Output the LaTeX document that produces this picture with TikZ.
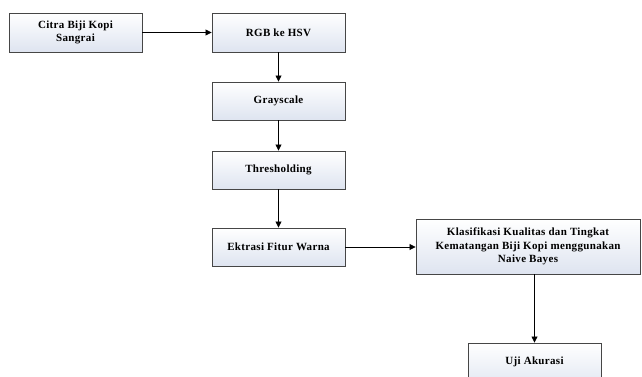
\documentclass[tikz,border=0pt]{standalone}
\usepackage{fontspec}
\setmainfont{Liberation Serif}[LetterSpace=3]
\usetikzlibrary{arrows.meta,calc}
\definecolor{boxend}{RGB}{222,228,240}
\definecolor{edge}{RGB}{70,70,70}
\tikzset{
  procbox/.style={draw=edge, line width=0.9pt, left color=white, right color=boxend, shading angle=0,
    minimum width=133pt, inner sep=2pt, align=center, font=\fontsize{11}{13.5}\selectfont\bfseries},
  flow/.style={draw=black, line width=0.8pt, -{Triangle[length=6pt,width=6pt]}}
}
\begin{document}
\begin{tikzpicture}[x=1pt,y=1pt]
\useasboundingbox (0,0) rectangle (642,-377);
\begin{scope}
\clip (0,0) rectangle (642,-377);
\node[procbox, minimum height=39pt] (c1) at (75.5,-32.5) {Citra Biji Kopi\\Sangrai};
\node[procbox, minimum height=39pt] (c2) at (278.5,-32.5) {RGB ke HSV};
\node[procbox, minimum height=38pt] (c3) at (278.5,-101) {Grayscale};
\node[procbox, minimum height=38pt] (c4) at (278.5,-170) {Thresholding};
\node[procbox, minimum height=38pt] (c5) at (278.5,-247) {Ektrasi Fitur Warna};
\node[procbox, minimum width=224pt, minimum height=55pt] (c6) at (528,-246.5) {Klasifikasi Kualitas dan Tingkat\\Kematangan Biji Kopi menggunakan\\Naive Bayes};
\node[procbox, minimum height=48pt, text depth=13pt] (c7) at (534.5,-367) {Uji Akurasi};
\end{scope}
\draw[flow] (c1) -- (c2);
\draw[flow] (c2) -- (c3);
\draw[flow] (c3) -- (c4);
\draw[flow] (c4) -- (c5);
\draw[flow] (c5) -- (c5 -| c6.west);
\draw[flow] (c6.south -| c7.north) -- (c7.north);
\end{tikzpicture}
\end{document}
